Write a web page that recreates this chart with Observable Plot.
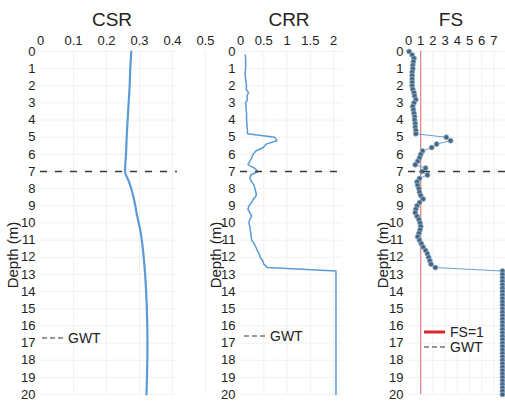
<!DOCTYPE html>
<html><head><meta charset="utf-8">
<script src="https://cdn.jsdelivr.net/npm/d3@7"></script>
<script src="https://cdn.jsdelivr.net/npm/@observablehq/plot@0.6"></script>
<style>
body{margin:0;background:#fff;}
#chart{position:relative;width:505px;height:402px;overflow:hidden;font-family:"Liberation Sans",Arial,sans-serif;color:#222;background:#fff;}
.panel{position:absolute;top:0;}
.title{position:absolute;top:10px;width:100px;text-align:center;font-size:19px;line-height:20px;}
.ylab{position:absolute;top:255px;font-size:15px;line-height:15px;white-space:nowrap;transform:translate(-50%,-50%) rotate(-90deg);}
.leg{position:absolute;font-size:14px;line-height:14px;display:flex;align-items:center;white-space:nowrap;}
.leg svg{margin-right:4px;}
</style></head>
<body><div id="chart"></div>
<script>
// ---- data ----
const depthTicks = [0,1,2,3,4,5,6,7,8,9,10,11,12,13,14,15,16,17,18,19,20];
const csrTicks = [0,0.1,0.2,0.3,0.4,0.5];
const crrTicks = [0,0.5,1,1.5,2];
const fsTicks = [0,1,2,3,4,5,6,7];

const csrDepth  = [0,1,2,3,4,5,6,7,7.5,8,8.6,9.6,10.5,11.5,12.5,14,15.6,17,18.7,20];
const csrValues = [0.275,0.272,0.27,0.267,0.264,0.261,0.259,0.256,0.266,0.275,0.283,0.293,0.303,0.31,0.315,0.32,0.323,0.324,0.323,0.321];

const sampleDepth = [0,0.2,0.4,0.6,0.8,1,1.2,1.4,1.6,1.8,2,2.2,2.4,2.6,2.8,3,3.2,3.4,3.6,3.8,4,4.2,4.4,4.6,4.8,5,5.2,5.4,5.6,5.8,6,6.2,6.4,6.6,6.8,7,7.2,7.4,7.6,7.8,8,8.2,8.4,8.6,8.8,9,9.2,9.4,9.6,9.8,10,10.2,10.4,10.6,10.8,11,11.2,11.4,11.6,11.8,12,12.2,12.4,12.6,12.8,13,13.2,13.4,13.6,13.8,14,14.2,14.4,14.6,14.8,15,15.2,15.4,15.6,15.8,16,16.2,16.4,16.6,16.8,17,17.2,17.4,17.6,17.8,18,18.2,18.4,18.6,18.8,19,19.2,19.4,19.6,19.8,20];

const crrValues = [null,0.1,0.11,0.11,0.11,0.11,0.1,0.1,0.11,0.12,0.13,0.12,0.17,0.14,0.15,0.11,0.12,0.12,0.13,0.13,0.13,0.14,0.14,0.15,0.15,
  0.74,0.78,0.55,0.49,0.33,0.27,0.24,0.2,0.16,0.3,0.38,0.22,0.2,0.24,0.29,0.31,0.33,0.34,0.28,0.24,0.18,0.16,0.2,0.24,0.2,
  0.18,0.2,0.21,0.22,0.23,0.24,0.29,0.33,0.36,0.4,0.42,0.48,0.5,0.58,
  2.05,2.05,2.05,2.05,2.05,2.05,2.05,2.05,2.05,2.05,2.05,2.05,2.05,2.05,2.05,2.05,2.05,2.05,2.05,2.05,2.05,2.05,2.05,2.05,2.05,2.05,2.05,2.05,2.05,2.05,2.05,2.05,2.05,2.05,2.05,2.05,2.05];

const fsValues = [0.05,0.3,0.45,0.4,0.35,0.35,0.3,0.3,0.3,0.3,0.3,0.35,0.45,0.5,0.6,0.45,0.35,0.4,0.45,0.5,0.5,0.55,0.55,0.6,0.6,
  3.1,3.45,2.3,1.9,1.15,1.0,0.9,0.75,0.55,1.4,1.1,1.55,0.9,0.7,0.75,0.85,0.9,1.0,1.2,0.9,0.7,0.6,0.55,0.7,0.85,
  0.95,1.0,0.95,0.85,0.75,0.9,1.05,1.2,1.4,1.55,1.65,1.75,1.85,2.2,
  7.7,7.7,7.7,7.7,7.7,7.7,7.7,7.7,7.7,7.7,7.7,7.7,7.7,7.7,7.7,7.7,7.7,7.7,7.7,7.7,7.7,7.7,7.7,7.7,7.7,7.7,7.7,7.7,7.7,7.7,7.7,7.7,7.7,7.7,7.7,7.7,7.7];

const gwtDepth = [7];
const fsLimit = [1];
const titles = ["CSR", "CRR", "FS"];
const yLabel = "Depth (m)";

// ---- build ----
const csrData = csrDepth.map((d, i) => ({depth: d, v: csrValues[i]}));
const crrData = sampleDepth.map((d, i) => ({depth: d, v: crrValues[i]}));
const fsData = sampleDepth.map((d, i) => ({depth: d, v: fsValues[i]}));

const blue = "#5b9bd5";
const gridColor = "#f1f1f1";
const chart = document.getElementById("chart");

function panel(cfg) {
  const marks = [
    Plot.gridY(depthTicks, {stroke: gridColor, strokeOpacity: 1}),
    Plot.gridX(cfg.ticks.filter(t => t > 0), {stroke: gridColor, strokeOpacity: 1}),
    Plot.axisX(cfg.ticks, {anchor: "top", tickSize: 0, tickPadding: 7, label: null, tickFormat: d => String(d), fontSize: 13}),
    Plot.axisY(depthTicks, {anchor: "left", tickSize: 0, tickPadding: 5, label: null, tickFormat: d => String(d), fontSize: 13}),
    ...cfg.marks,
    Plot.ruleY(gwtDepth, {stroke: "#3a3a3a", strokeWidth: 1.5, strokeDasharray: "7,8"})
  ];
  const svg = Plot.plot({
    width: cfg.width, height: 402,
    marginLeft: 40, marginRight: cfg.marginRight, marginTop: 51, marginBottom: 8,
    x: {domain: cfg.domain},
    y: {domain: [0, 20], reverse: true},
    style: {background: "transparent", overflow: "visible", fontFamily: "Liberation Sans, Arial, sans-serif", fontSize: "13px", color: "#222"},
    marks
  });
  svg.classList.add("panel");
  svg.style.left = cfg.left + "px";
  svg.style.position = "absolute";
  svg.style.top = "0px";
  chart.appendChild(svg);
}

panel({left: 0, width: 210, marginRight: 33, domain: [0, 0.415], ticks: csrTicks,
  marks: [Plot.line(csrData, {x: "v", y: "depth", stroke: blue, strokeWidth: 2.2, curve: "monotone-y"})]});
panel({left: 200, width: 144, marginRight: 2, domain: [0, 2.19], ticks: crrTicks,
  marks: [Plot.line(crrData, {x: "v", y: "depth", stroke: blue, strokeWidth: 1.5})]});
panel({left: 368, width: 137, marginRight: 0, domain: [0, 7.95], ticks: fsTicks,
  marks: [
    Plot.ruleX(fsLimit, {stroke: "#e58080", strokeWidth: 1.2}),
    Plot.line(fsData, {x: "v", y: "depth", stroke: "#6a9fd0", strokeWidth: 1}),
    Plot.dot(fsData, {x: "v", y: "depth", r: 2.5, fill: "#48637c", stroke: "#93b5d2", strokeWidth: 0.8})
  ]});

// titles
[[112, titles[0]], [289, titles[1]], [451, titles[2]]].forEach(([cx, t]) => {
  const el = document.createElement("div");
  el.className = "title"; el.textContent = t; el.style.left = (cx - 50) + "px";
  chart.appendChild(el);
});
// y labels
[12, 215, 382].forEach(cx => {
  const el = document.createElement("div");
  el.className = "ylab"; el.textContent = yLabel; el.style.left = cx + "px";
  chart.appendChild(el);
});
// legends
function legend(x, y, swatch, text) {
  const el = document.createElement("div");
  el.className = "leg"; el.style.left = x + "px"; el.style.top = (y - 7) + "px";
  el.innerHTML = swatch + "<span>" + text + "</span>";
  chart.appendChild(el);
}
const dashSw = '<svg width="22" height="14"><line x1="0" x2="21" y1="7" y2="7" stroke="#333" stroke-width="1.2" stroke-dasharray="5,3"/></svg>';
const redSw = '<svg width="22" height="14"><line x1="0" x2="21" y1="7" y2="7" stroke="#d9262b" stroke-width="3"/></svg>';
legend(42, 338, dashSw, "GWT");
legend(244, 336, dashSw, "GWT");
legend(424, 332, redSw, "FS=1");
legend(424, 347, dashSw, "GWT");
</script>
</body></html>
